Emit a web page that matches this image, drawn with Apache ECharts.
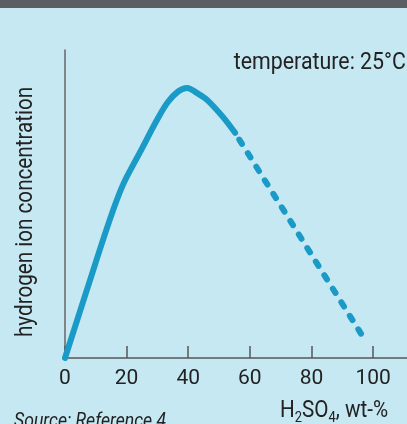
<!DOCTYPE html>
<html>
<head>
<meta charset="utf-8">
<script src="https://cdn.jsdelivr.net/npm/echarts@6/dist/echarts.min.js"></script>
<style>
html,body{margin:0;padding:0;background:#c5e8f3;}
#c{width:407px;height:424px;}
</style>
</head>
<body>
<div id="c"></div>
<script>
// wt-% H2SO4 and relative hydrogen ion concentration (0-100 scale)
const solidX = [0, 7.1, 14.3, 18.8, 24.4, 30.2, 33.4, 36.8, 39.6, 42.9, 46.1, 51.3, 55.2];
const solidY = [0, 22.1, 44.2, 56.2, 66.9, 77.9, 83.1, 86.6, 87.7, 86.0, 83.8, 78.2, 73.1];
const dashX = [55.2, 97.4];
const dashY = [73.1, 5.8];
const xTicks = [0, 20, 40, 60, 80, 100];

const FONT = "'Liberation Sans Narrow', 'Arial Narrow', 'Roboto', sans-serif";
const LINE = '#1a9ac6';

const chart = echarts.init(document.getElementById('c'), null, {renderer: 'canvas'});
chart.setOption({
  backgroundColor: '#c5e8f3',
  animation: false,
  grid: {left: 65, right: 0, top: 50, bottom: 66},
  xAxis: {
    type: 'value', min: 0, max: 111,
    axisLine: {show: true, lineStyle: {color: '#555', width: 1.5}},
    axisTick: {show: true, inside: true, length: 12, customValues: xTicks, lineStyle: {color: '#555', width: 1.5}},
    axisLabel: {customValues: xTicks, color: '#222', fontSize: 21, fontFamily: FONT, margin: 10},
    splitLine: {show: false}
  },
  yAxis: {
    type: 'value', min: 0, max: 100,
    axisLine: {show: true, lineStyle: {color: '#666', width: 1.5}},
    axisTick: {show: false},
    axisLabel: {show: false},
    splitLine: {show: false}
  },
  series: [
    {
      type: 'line', smooth: 0.35, symbol: 'none',
      data: solidX.map((x, i) => [x, solidY[i]]),
      lineStyle: {color: LINE, width: 6, cap: 'round', join: 'round'}
    },
    {
      type: 'line', symbol: 'none',
      data: dashX.map((x, i) => [x, dashY[i]]),
      lineStyle: {color: LINE, width: 6, cap: 'round', type: [5, 11], dashOffset: -8}
    }
  ],
  graphic: [
    {type: 'rect', left: 0, top: 0, shape: {width: 407, height: 8}, style: {fill: '#5b5f63'}},
    {type: 'text', x: 406, y: 63, scaleX: 0.89, style: {text: 'temperature: 25°C', font: '24px ' + FONT, fill: '#222', align: 'right', verticalAlign: 'middle'}},
    {type: 'text', x: 26, y: 337, rotation: Math.PI / 2, scaleX: 0.86, style: {text: 'hydrogen ion concentration', font: '24px ' + FONT, fill: '#222', align: 'left', verticalAlign: 'middle'}},
    {type: 'text', x: 388, y: 411, scaleX: 0.86, style: {
      text: '{m|H}{s|2}{m|SO}{s|4}{m|, wt-%}',
      align: 'right', verticalAlign: 'middle',
      rich: {
        m: {font: '24px ' + FONT, fill: '#222', verticalAlign: 'bottom'},
        s: {font: '15px ' + FONT, fill: '#222', verticalAlign: 'bottom', padding: [0, 0, -3, 0]}
      }
    }},
    {type: 'text', x: 14, y: 422, scaleX: 0.84, style: {text: 'Source: Reference 4', font: 'italic 21px ' + FONT, fill: '#222', align: 'left', verticalAlign: 'middle'}}
  ]
});
</script>
</body>
</html>
